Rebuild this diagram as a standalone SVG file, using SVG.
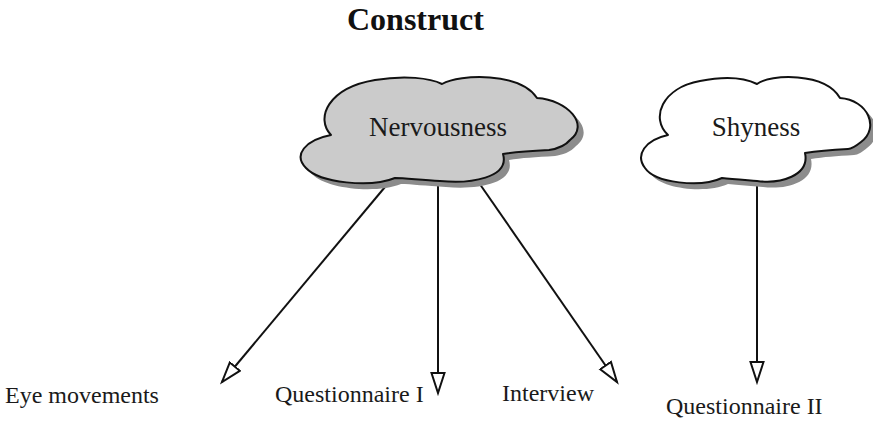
<svg xmlns="http://www.w3.org/2000/svg" width="873" height="423" viewBox="0 0 873 423">
<style>
  .lbl { font-family: "Liberation Serif", "Times New Roman", serif; font-size: 24px; fill: #1a1a1a; }
  .cl { font-family: "Liberation Serif", "Times New Roman", serif; font-size: 27px; fill: #1a1a1a; text-anchor: middle; }
  .title { font-family: "Liberation Serif", "Times New Roman", serif; font-size: 32px; font-weight: bold; fill: #111; }
  .cloud { stroke: #111; stroke-width: 2; stroke-linejoin: round; }
  .shadow { fill: #8c8c8c; stroke: none; }
  .edge { stroke: #111; stroke-width: 2; fill: none; marker-end: url(#arr); }
</style>
<defs>
  <marker id="arr" markerUnits="userSpaceOnUse" markerWidth="24" markerHeight="18" refX="21" refY="8" orient="auto">
    <path d="M1,1.5 L21,8 L1,14.5 Z" fill="#fff" stroke="#111" stroke-width="2" stroke-linejoin="miter"/>
  </marker>
  <path id="cloudN" d="M331,135 C315,118 328,88 375,80 C405,75 430,78 442,84 C460,74 520,72 537,98 C568,100 590,125 570,140 C565,146 556,149 549,150 C530,151 515,152 503,154 C510,178 470,184 440,181 C420,180 405,178 395,178 C370,188 320,183 306,168 C293,155 305,140 331,135 Z"/>
  <path id="cloudS" d="M668,135 C650,118 662,88 700,81 C725,76 745,78 757,84 C770,74 825,72 840,98 C868,100 880,128 861,142 C856,146 852,149 848,149 C830,150 818,151 805,153 C810,176 780,184 757,181 C745,180 732,179 722,178 C700,188 655,183 645,168 C635,155 645,140 668,135 Z"/>
</defs>
<rect width="873" height="423" fill="#fff"/>
<text class="title" x="347" y="30">Construct</text>
<g id="connectors">
  <line class="edge" x1="390" y1="181" x2="222" y2="382"/>
  <line class="edge" x1="438" y1="182" x2="438" y2="393"/>
  <line class="edge" x1="477" y1="180" x2="617" y2="382"/>
  <line class="edge" x1="757" y1="180" x2="757" y2="382"/>
</g>
<g id="nervousness">
  <use href="#cloudN" class="shadow" transform="translate(6,6)"/>
  <use href="#cloudN" class="cloud" fill="#cbcbcb"/>
  <text class="cl" x="438" y="136">Nervousness</text>
</g>
<g id="shyness">
  <use href="#cloudS" class="shadow" transform="translate(6,6)"/>
  <use href="#cloudS" class="cloud" fill="#fff"/>
  <text class="cl" x="756" y="136">Shyness</text>
</g>
<g id="eye-movements"><text class="lbl" x="5" y="403">Eye movements</text></g>
<g id="questionnaire-1"><text class="lbl" x="275" y="402">Questionnaire I</text></g>
<g id="interview"><text class="lbl" x="502" y="401">Interview</text></g>
<g id="questionnaire-2"><text class="lbl" x="666" y="414">Questionnaire II</text></g>
</svg>
